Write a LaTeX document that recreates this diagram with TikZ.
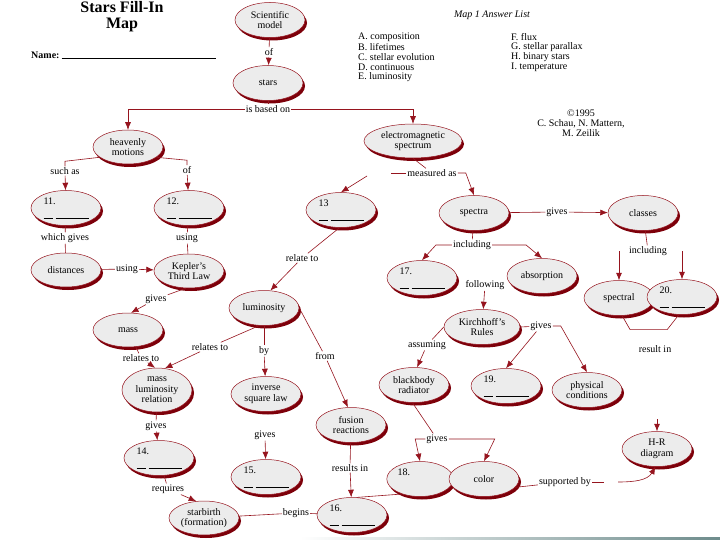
\documentclass[tikz,border=0pt]{standalone}
\usepackage{fontspec}
\setmainfont{Liberation Serif}
\usetikzlibrary{shapes.geometric,shadows,arrows.meta}
\definecolor{stred}{RGB}{150,20,30}
\definecolor{stshadow}{RGB}{125,0,10}
\definecolor{bubblegray}{RGB}{236,236,236}
\definecolor{stteal}{RGB}{110,140,140}
\newcommand{\fillblank}[1]{#1\\[3pt]\rule{9pt}{.5pt}\hspace{3pt}\rule{33pt}{.5pt}}
\begin{document}
\begin{tikzpicture}[x=1pt,y=-1pt,
    bubble/.style={ellipse, draw=stred, line width=.5pt, fill=bubblegray, minimum width=70pt, minimum height=35pt,
      inner sep=1pt, align=center, font=\fontsize{10}{10.5}\selectfont,
      drop shadow={shadow xshift=2pt, shadow yshift=-3pt, fill=stshadow, opacity=1}},
    fillbox/.style={bubble, align=left},
    lbl/.style={font=\fontsize{10}{10.5}\selectfont, inner sep=1pt},
    link/.style={draw=stred, line width=.6pt},
    arr/.style={link, -{Latex[length=7.5pt,width=6pt]}}
  ]
  \fill[white] (0,0) rectangle (720,540);
  \useasboundingbox (0,0) rectangle (720,540);
  \shade[left color=white, right color=stteal] (300,537) rectangle (720,540);

  \node[font=\bfseries\fontsize{16}{16}\selectfont, align=center] (title) at (122,17) {Stars Fill-In\\Map};
  \node[font=\bfseries\fontsize{10}{10}\selectfont, anchor=west, inner sep=0pt] (name) at (31,55) {Name:};
  \draw[line width=.7pt] ([xshift=2pt]name.base east) -- ++(154,0);

  \node[lbl, font=\itshape\fontsize{10}{10}\selectfont] (anslist) at (492,15) {Map 1 Answer List};
  \foreach \txt [count=\i] in {A. composition, B. lifetimes, C. stellar evolution, D. continuous, E. luminosity}
    \node[lbl, anchor=west] (ansL\i) at (357,27+10*\i) {\txt};
  \foreach \txt [count=\i] in {F. flux, G. stellar parallax, H. binary stars, I. temperature}
    \node[lbl, anchor=west] (ansR\i) at (510,27+10*\i) {\txt};
  \node[lbl, align=center, font=\fontsize{10}{10}\selectfont] (credit) at (581,123) {\textcopyright 1995\\C. Schau, N. Mattern,\\M. Zeilik};

  \node[bubble] (sci) at (270,20) {Scientific\\model};
  \node[bubble] (stars) at (268,83) {stars};
  \node[bubble, minimum height=34pt] (heav) at (128,147) {heavenly\\motions};
  \node[fillbox] (b11) at (66,208) {\fillblank{11.}};
  \node[fillbox] (b12) at (189,208) {\fillblank{12.}};
  \node[bubble, minimum height=34pt] (dist) at (66,270) {distances};
  \node[bubble, minimum height=34pt] (kepler) at (189,271) {Kepler's\\Third Law};
  \node[bubble, minimum height=34pt] (mass) at (128,330) {mass};
  \node[bubble, minimum height=44pt] (mlr) at (157,390) {mass\\luminosity\\relation};
  \node[fillbox] (b14) at (159,458) {\fillblank{14.}};
  \node[bubble, minimum height=34pt] (birth) at (204,518) {starbirth\\(formation)};
  \node[bubble] (lum) at (264,308) {luminosity};
  \node[bubble] (isl) at (266,394) {inverse\\square law};
  \node[fillbox] (b15) at (266,477) {\fillblank{15.}};
  \node[bubble] (fusion) at (351,425) {fusion\\reactions};
  \node[fillbox] (b16) at (352,515) {\fillblank{16.}};
  \node[bubble, minimum width=98pt, minimum height=34pt] (ems) at (413,141) {electromagnetic\\spectrum};
  \node[fillbox] (b13) at (341,210) {\fillblank{13}};
  \node[bubble] (spectra) at (474,213) {spectra};
  \node[bubble] (classes) at (643,213) {classes};
  \node[fillbox] (b17) at (422,278) {\fillblank{17.}};
  \node[bubble] (absorb) at (542,276) {absorption};
  \node[bubble, minimum width=76pt] (kirch) at (482,327) {Kirchhoff's\\Rules};
  \node[bubble] (bbody) at (414,385) {blackbody\\radiator};
  \node[fillbox] (b19) at (506,386) {\fillblank{19.}};
  \node[bubble] (phys) at (587,390) {physical\\conditions};
  \node[bubble] (spectral) at (619,298) {spectral};
  \node[fillbox] (b20) at (682,297) {\fillblank{20.}};
  \node[bubble] (hr) at (657,449) {H-R\\diagram};
  \node[fillbox, minimum width=66pt] (b18) at (420,479) {18.\\[3pt]\hphantom{\rule{45pt}{.5pt}}};
  \node[bubble] (color) at (484,479) {color};

  \node[lbl] (lof1) at (269,52) {of};
  \node[lbl] (based) at (268,109) {is based on};
  \node[lbl] (such) at (65,171) {such as};
  \node[lbl] (lof2) at (187,170) {of};
  \node[lbl] (which) at (65,238) {which gives};
  \node[lbl] (using1) at (187,238) {using};
  \node[lbl] (using2) at (127,269) {using};
  \node[lbl] (gives1) at (156,299) {gives};
  \node[lbl] (rel1) at (141,358) {relates to};
  \node[lbl] (rel2) at (210,347) {relates to};
  \node[lbl] (gives2) at (156,426) {gives};
  \node[lbl] (req) at (168,489) {requires};
  \node[lbl] (begins) at (296,513) {begins};
  \node[lbl] (rel3) at (302,258) {relate to};
  \node[lbl] (lby) at (264,351) {by};
  \node[lbl] (lfrom) at (325,356) {from};
  \node[lbl] (gives3) at (265,435) {gives};
  \node[lbl] (resin) at (350,468) {results in};
  \node[lbl] (meas) at (432,173) {measured as};
  \node[lbl] (gives4) at (557,212) {gives};
  \node[lbl] (incl1) at (472,245) {including};
  \node[lbl] (incl2) at (648,251) {including};
  \node[lbl] (follow) at (485,285) {following};
  \node[lbl] (assum) at (427,345) {assuming};
  \node[lbl] (gives5) at (541,326) {gives};
  \node[lbl] (resin2) at (655,349) {result in};
  \node[lbl] (gives6) at (437,439) {gives};
  \node[lbl] (supp) at (565,482) {supported by};
  \coordinate (emsfoot) at (367,176);
  \coordinate (hrtop) at (657,419);

  \draw[link] (sci) -- (lof1);
  \draw[arr] (lof1) -- (stars);
  \draw[link] (stars) -- (based);
  \draw[arr] (based.west) -| (heav.north);
  \draw[arr] (based.east) -| (ems.north);
  \draw[link] (heav.200) -- ([yshift=5pt]such.north) -- (such.north);
  \draw[arr] (such) -- (b11);
  \draw[link] (heav.-20) -- ([yshift=5pt]lof2.north) -- (lof2.north);
  \draw[arr] (lof2) -- (b12);
  \draw[link] (b11) -- (which);
  \draw[link] (which) -- (dist);
  \draw[link] (b12) -- (using1);
  \draw[link] (using1) -- (kepler);
  \draw[link] (dist) -- (using2);
  \draw[arr] (using2) -- (kepler);
  \draw[link] (kepler.-100) -- (gives1);
  \draw[arr] (gives1) -- (mass.80);
  \draw[link] (mass) -- (rel1);
  \draw[arr] (rel1) -- (mlr.95);
  \draw[link] (lum.-105) -- (rel2);
  \draw[arr] (rel2) -- (mlr.70);
  \draw[link] (mlr) -- (gives2);
  \draw[arr] (gives2) -- (b14);
  \draw[link] (b14) -- (req);
  \draw[arr] (req) -- (birth.115);
  \draw[link] (birth) -- (begins);
  \draw[link] (begins) -- (b16);
  \draw[link] (b13.-95) -- (rel3);
  \draw[arr] (rel3) -- (lum.70);
  \draw[link] (lum) -- (lby);
  \draw[arr] (lby) -- (isl);
  \draw[link] (lum.0) -- (lfrom);
  \draw[arr] (lfrom) -- (fusion.100);
  \draw[arr] (gives3) -- (b15);
  \draw[link] (fusion) -- (resin);
  \draw[arr] (resin) -- (b16);
  \draw[link] (ems.south) -- (meas);
  \draw[link] (meas.west) -- ++(-15,0);
  \draw[arr] (meas.east) -- ++(8,0) -- (spectra.north);
  \draw[arr] (emsfoot) -- (b13.north);
  \draw[link] (spectra) -- (gives4);
  \draw[arr] (gives4) -- (classes);
  \draw[link] (spectra) -- (incl1);
  \draw[arr] (incl1.west) -- ++(-16,0) -- (b17.north);
  \draw[arr] (incl1.east) -- ++(34,0) -- (absorb.north);
  \draw[arr] (follow) -- (kirch);
  \draw[link] (kirch.west) -- (assum);
  \draw[arr] (assum) -- (bbody.80);
  \draw[link] (kirch.east) -- (gives5);
  \draw[arr] (gives5.east) -- ++(8,0) -- (phys.north);
  \draw[arr] (gives5) -- (b19.north);
  \draw[link] (classes) -- (incl2);
  \draw[arr] (spectral.north |- incl2) -- (spectral.north);
  \draw[arr] (b20.north |- incl2) -- (b20.north);
  \draw[link] (spectral.-80) -- ++(8,14) -- ++(37,0) -- (b20.-100);
  \draw[arr] (hrtop) -- (hr.north);
  \draw[link] (bbody.-95) -- (gives6);
  \draw[arr] (gives6.west) -- ++(-10,0) -- (b18.north);
  \draw[arr] (gives6.east) -- ++(46,0) -- (color.north);
  \draw[link] (color.-15) -- (supp);
  \draw[link] (supp.east) -- ++(12,0);
  \draw[arr] ([xshift=26pt]supp.east) to[out=0,in=-120] (hr.-95);
  \draw[link] (b16.75) -- (b18.-140);
\end{tikzpicture}
\end{document}
